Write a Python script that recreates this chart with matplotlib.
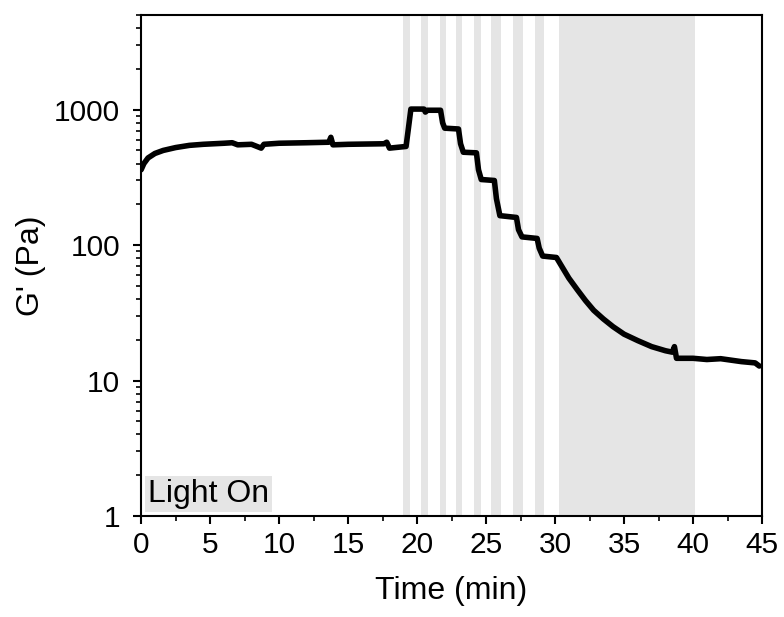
import matplotlib
matplotlib.use("Agg")
from matplotlib import pyplot as plt
from matplotlib.ticker import MultipleLocator, LogLocator, NullFormatter, FixedLocator
import numpy as np

plt.rcParams["font.family"] = ["Liberation Sans", "DejaVu Sans"]

# time (min) and storage modulus G' (Pa)
time_min = [0.0, 0.2, 0.5, 1.0, 1.6, 2.5, 3.5, 4.5, 6.0, 6.6, 7.0, 8.0, 8.7, 8.9,
            10.0, 12.0, 13.6, 13.75, 13.9, 15.0, 17.6, 17.8, 18.0, 19.2, 19.35,
            19.55, 20.5, 20.6, 20.75, 21.7, 21.85, 22.0, 23.0, 23.15, 23.35,
            24.3, 24.45, 24.65, 25.6, 25.75, 26.0, 27.2, 27.35, 27.6, 28.7,
            28.85, 29.1, 30.1, 30.4, 31.0, 31.6, 32.2, 32.8, 33.5, 34.2, 35.0,
            36.0, 37.0, 38.0, 38.5, 38.65, 38.8, 40.0, 41.0, 42.0, 43.5, 44.5, 44.8]
g_prime = [360, 400, 440, 475, 500, 525, 545, 555, 565, 570, 550, 555, 520, 555,
           565, 570, 575, 625, 550, 555, 560, 575, 520, 535, 700,
           1010, 1010, 960, 990, 990, 800, 730, 720, 560, 485,
           480, 360, 305, 300, 220, 165, 160, 130, 115, 112,
           95, 83, 81, 72, 57, 47, 39, 33, 28.5, 25, 22,
           19.7, 17.8, 16.6, 16.2, 17.8, 14.6, 14.6, 14.3, 14.5, 13.8, 13.5, 12.8]

# light-on intervals (min)
light_start = [19.0, 20.3, 21.65, 22.8, 24.1, 25.35, 26.95, 28.55, 30.25]
light_end = [19.5, 20.8, 22.1, 23.25, 24.6, 26.05, 27.7, 29.2, 40.15]

fig = plt.figure(figsize=(7.84, 6.17), dpi=100)
ax = fig.add_axes([0.18, 0.1637, 0.792, 0.812])

for s, e in zip(light_start, light_end):
    ax.axvspan(s, e, color="#e5e5e5", lw=0, zorder=0)

ax.plot(time_min, g_prime, color="black", lw=4, solid_joinstyle="round",
        solid_capstyle="round", zorder=3)

ax.set_yscale("log")
ax.set_xlim(0, 45)
ax.set_ylim(1, 5000)
ax.xaxis.set_major_locator(MultipleLocator(5))
ax.xaxis.set_minor_locator(MultipleLocator(2.5))
ax.yaxis.set_major_locator(FixedLocator([1, 10, 100, 1000]))
ax.set_yticklabels(["1", "10", "100", "1000"])
ax.yaxis.set_minor_locator(LogLocator(base=10, subs=np.arange(2, 10)))
ax.yaxis.set_minor_formatter(NullFormatter())

for sp in ax.spines.values():
    sp.set_linewidth(1.5)
ax.tick_params(axis="both", which="major", direction="out", length=6, width=1.5,
               labelsize=21.5, top=False, right=False)
ax.tick_params(axis="x", which="major", pad=5)
ax.tick_params(axis="y", which="major", pad=9)
ax.tick_params(axis="both", which="minor", direction="out", length=3.6, width=1.2,
               top=False, right=False)

ax.set_xlabel("Time (min)", fontsize=23, labelpad=12)
ax.set_ylabel("G' (Pa)", fontsize=23, labelpad=6)

ax.text(0.0113, 0.014, "Light On", transform=ax.transAxes, fontsize=23,
        ha="left", va="bottom", zorder=4,
        bbox=dict(facecolor="#e5e5e5", edgecolor="none", pad=2))

plt.savefig("out.png", dpi=100)
